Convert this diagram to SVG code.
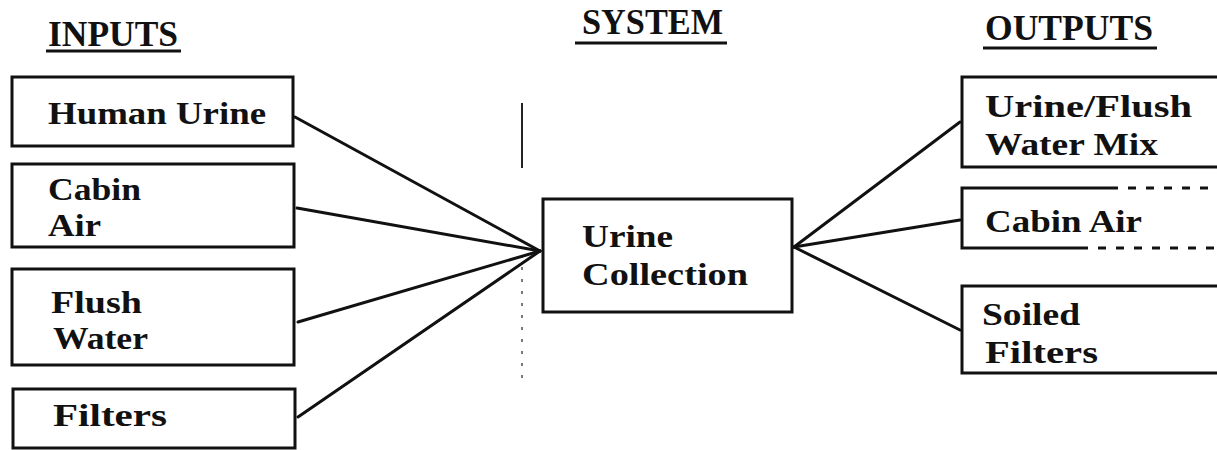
<svg xmlns="http://www.w3.org/2000/svg" width="1217" height="450" viewBox="0 0 1217 450">
  <style>
    .bg { fill: #ffffff; }
    .box { fill: none; stroke: #111; stroke-width: 3; }
    .edge { fill: none; stroke: #111; stroke-width: 3; stroke-linecap: round; }
    .label { font-family: "Liberation Serif", "Times New Roman", serif; font-weight: bold; font-size: 32px; fill: #111; }
    .head { font-family: "Liberation Serif", "Times New Roman", serif; font-weight: bold; font-size: 35px; fill: #111; }
    .rule { stroke: #111; stroke-width: 3; }
    .divider { stroke: #222; stroke-width: 2; }
  </style>
  <rect class="bg" x="0" y="0" width="1217" height="450"/>

  <!-- column headings -->
  <g id="headings">
    <text class="head" x="48" y="46" textLength="130" lengthAdjust="spacingAndGlyphs">INPUTS</text>
    <line class="rule" x1="46" y1="51" x2="181" y2="51"/>
    <text class="head" x="582" y="34" textLength="141" lengthAdjust="spacingAndGlyphs">SYSTEM</text>
    <line class="rule" x1="575" y1="43" x2="727" y2="43"/>
    <text class="head" x="985" y="40" textLength="168" lengthAdjust="spacingAndGlyphs">OUTPUTS</text>
    <line class="rule" x1="983" y1="48" x2="1157" y2="48"/>
  </g>

  <!-- boundary between inputs and system -->
  <g id="boundary">
    <line class="divider" x1="522" y1="103" x2="522" y2="168"/>
    <line class="divider" x1="522" y1="255" x2="522" y2="385" stroke-dasharray="3 9" opacity="0.6"/>
  </g>

  <!-- connectors -->
  <g id="connectors">
    <line class="edge" x1="295" y1="117" x2="540" y2="251"/>
    <line class="edge" x1="297" y1="208" x2="540" y2="251"/>
    <line class="edge" x1="298" y1="322" x2="540" y2="251"/>
    <line class="edge" x1="298" y1="417" x2="540" y2="251"/>
    <line class="edge" x1="794" y1="247" x2="960" y2="122"/>
    <line class="edge" x1="794" y1="247" x2="960" y2="220"/>
    <line class="edge" x1="794" y1="247" x2="960" y2="330"/>
  </g>

  <!-- input nodes -->
  <g id="in-human-urine">
    <rect class="box" x="12" y="77" width="281" height="69"/>
    <text class="label" x="48" y="124" textLength="218" lengthAdjust="spacingAndGlyphs">Human Urine</text>
  </g>
  <g id="in-cabin-air">
    <rect class="box" x="12" y="164" width="282" height="83"/>
    <text class="label" x="48" y="200" textLength="93" lengthAdjust="spacingAndGlyphs">Cabin</text>
    <text class="label" x="48" y="236" textLength="53" lengthAdjust="spacingAndGlyphs">Air</text>
  </g>
  <g id="in-flush-water">
    <rect class="box" x="12" y="269" width="282" height="96"/>
    <text class="label" x="51" y="313" textLength="91" lengthAdjust="spacingAndGlyphs">Flush</text>
    <text class="label" x="53" y="349" textLength="95" lengthAdjust="spacingAndGlyphs">Water</text>
  </g>
  <g id="in-filters">
    <rect class="box" x="13" y="389" width="282" height="59"/>
    <text class="label" x="53" y="426" textLength="114" lengthAdjust="spacingAndGlyphs">Filters</text>
  </g>

  <!-- system node -->
  <g id="sys-urine-collection">
    <rect class="box" x="543" y="199" width="249" height="113"/>
    <text class="label" x="582" y="247" textLength="91" lengthAdjust="spacingAndGlyphs">Urine</text>
    <text class="label" x="582" y="285" textLength="166" lengthAdjust="spacingAndGlyphs">Collection</text>
  </g>

  <!-- output nodes (open to the right edge) -->
  <g id="out-mix">
    <path class="box" d="M1220 77 H962 V167 H1220"/>
    <text class="label" x="985" y="117" textLength="207" lengthAdjust="spacingAndGlyphs">Urine/Flush</text>
    <text class="label" x="985" y="155" textLength="173" lengthAdjust="spacingAndGlyphs">Water Mix</text>
  </g>
  <g id="out-cabin-air">
    <path class="box" d="M1110 188 H962 V248 H1080"/>
    <path class="box" d="M1110 188 H1217 M1080 248 H1217" stroke-dasharray="8 10" stroke-width="2"/>
    <text class="label" x="985" y="232" textLength="157" lengthAdjust="spacingAndGlyphs">Cabin Air</text>
  </g>
  <g id="out-soiled-filters">
    <path class="box" d="M1220 286 H962 V373 H1220"/>
    <text class="label" x="982" y="325" textLength="98" lengthAdjust="spacingAndGlyphs">Soiled</text>
    <text class="label" x="985" y="363" textLength="113" lengthAdjust="spacingAndGlyphs">Filters</text>
  </g>
</svg>
